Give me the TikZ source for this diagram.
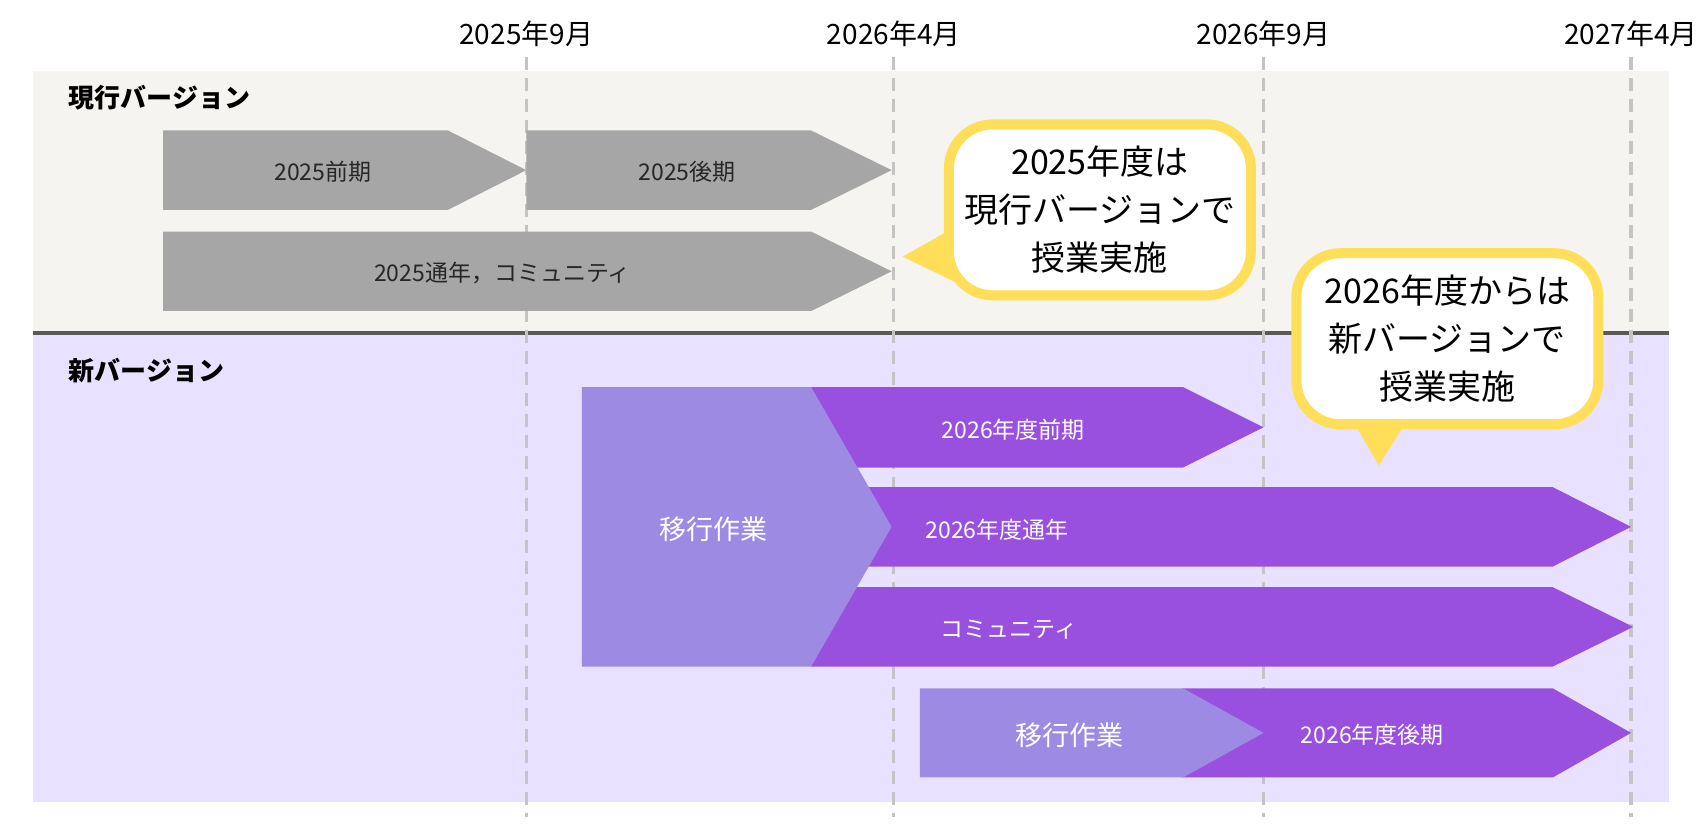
\documentclass[tikz,border=0pt]{standalone}
\usepackage{fontspec}
\setmainfont{Noto Sans CJK JP}
\usepackage{xcolor}
\definecolor{band-now}{HTML}{F5F4F0}
\definecolor{band-new}{HTML}{E8E1FF}
\definecolor{line-gray}{HTML}{C4C4C4}
\definecolor{divider-gray}{HTML}{595959}
\definecolor{bar-gray}{HTML}{A6A6A6}
\definecolor{bar-purple}{HTML}{9A50DE}
\definecolor{bar-lilac}{HTML}{9D8AE2}
\definecolor{note-yellow}{HTML}{FFDE59}
\usetikzlibrary{positioning}
\tikzset{
    month-label/.style = {font=\fontsize{28}{32}\selectfont, text=black, inner sep=0pt},
    month-line/.style = {draw=line-gray, line width=3.3pt, dash pattern=on 13pt off 8pt},
    section-title/.style = {font=\fontsize{26}{30}\selectfont\bfseries, anchor=west, inner sep=0pt},
    bar-label/.style = {font=\fontsize{23}{27}\selectfont, text=black!85, inner sep=0pt},
    bar-label-white/.style = {font=\fontsize{23}{27}\selectfont, text=white, inner sep=0pt},
    work-label/.style = {font=\fontsize{27}{31}\selectfont, text=white, inner sep=0pt},
    note-box/.style = {draw=note-yellow, fill=white, line width=10pt, rounded corners=44pt, inner sep=0pt,
        minimum width=302pt, minimum height=171pt, align=center, font=\fontsize{34}{48}\selectfont},
}

\begin{document}
\begin{tikzpicture}[x=1.0874pt, y=-1.0874pt]
\useasboundingbox (0,0) rectangle (1568,772.5);
% bands
\fill[band-now] (30,65) rectangle (1535,306);
\fill[band-new] (30,306) rectangle (1535,738);
\draw[divider-gray, line width=4.3pt] (30,306) -- (1535,306);
\node[section-title] (title-now) at (63,90) {現行バージョン};
\node[section-title] (title-new) at (63,341) {新バージョン};

% months
\foreach \x/\lab/\name in {484/2025年9月/sep-25, 822/2026年4月/apr-26, 1162/2026年9月/sep-26, 1500/2027年4月/apr-27}{
    \node[month-label] (\name) at (\x,31) {\lab};
    \draw[month-line] (\x,52) -- (\x,751);
}

% current version
\fill[bar-gray] (150,120) -- (412,120) -- (484,156.5) -- (412,193) -- (150,193) -- cycle;
\node[bar-label] (zenki-25) at (297,158) {2025前期};
\fill[bar-gray] (484,120) -- (746,120) -- (820,156.5) -- (746,193) -- (484,193) -- cycle;
\node[bar-label] (kouki-25) at (632,158) {2025後期};
\fill[bar-gray] (150,213) -- (746,213) -- (820,249.5) -- (746,286) -- (150,286) -- cycle;
\node[bar-label] (tsunen-25) at (462,251) {2025通年，コミュニティ};

% new version
\fill[bar-purple] (746,356) -- (1088,356) -- (1162,393) -- (1088,430) -- (746,430) -- cycle;
\node[bar-label-white] (zenki-26) at (932,395) {2026年度前期};
\fill[bar-purple] (746,448) -- (1428,448) -- (1500,484.5) -- (1428,521) -- (746,521) -- cycle;
\node[bar-label-white] (tsunen-26) at (917,487) {2026年度通年};
\fill[bar-purple] (746,540) -- (1428,540) -- (1502,576.5) -- (1428,613) -- (746,613) -- cycle;
\node[bar-label-white] (community-26) at (928,579) {コミュニティ};
\fill[bar-lilac] (535,356) -- (746,356) -- (820,484.5) -- (746,613) -- (535,613) -- cycle;
\node[work-label] (work-1) at (656,487) {移行作業};

\fill[bar-purple] (1087,633) -- (1428,633) -- (1500,674) -- (1428,715) -- (1087,715) -- (1160,674) -- cycle;
\node[bar-label-white] (kouki-26) at (1262,676) {2026年度後期};
\fill[bar-lilac] (846,633) -- (1088,633) -- (1162,674) -- (1088,715) -- (846,715) -- cycle;
\node[work-label] (work-2) at (984,676) {移行作業};

% notes
\fill[note-yellow] (830,236) -- (880,208) -- (888,264) -- cycle;
\node[note-box] (note-now) at (1011.5,193) {2025年度は\\現行バージョンで\\授業実施};
\fill[note-yellow] (1268,428) -- (1243,385) -- (1295,385) -- cycle;
\node[note-box] (note-new) at (1331,311.5) {2026年度からは\\新バージョンで\\授業実施};
\end{tikzpicture}
\end{document}
